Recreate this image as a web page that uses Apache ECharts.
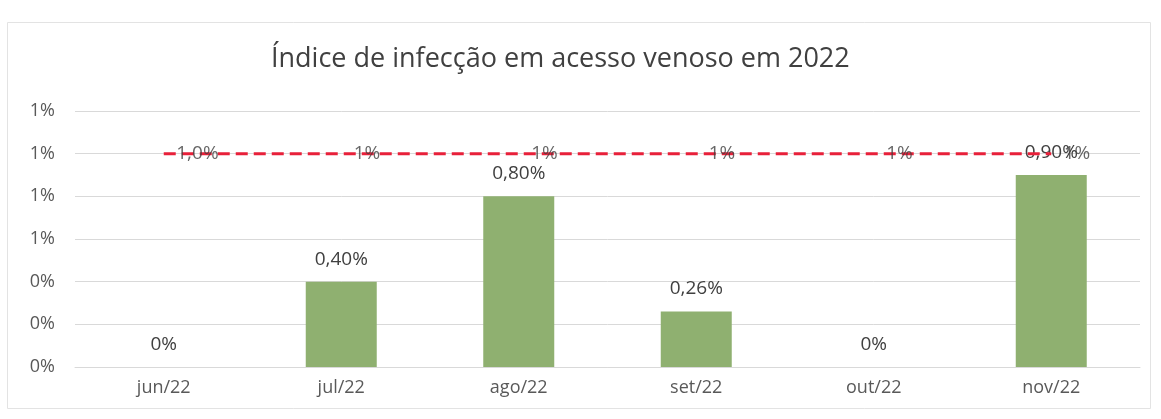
<!DOCTYPE html>
<html>
<head>
<meta charset="utf-8">
<script src="https://cdn.jsdelivr.net/npm/echarts@6/dist/echarts.min.js"></script>
<style>
  html, body { margin: 0; padding: 0; background: #ffffff; }
  #chart { width: 1161px; height: 419px; }
</style>
</head>
<body>
<div id="chart"></div>
<script>
// Monthly infection rate in venous access (percent)
const months = ['jun/22', 'jul/22', 'ago/22', 'set/22', 'out/22', 'nov/22'];
const infectionRate = [0, 0.40, 0.80, 0.26, 0, 0.90];
// Target rate line (percent) and its printed labels
const targetRate = [1.0, 1.0, 1.0, 1.0, 1.0, 1.0];
const targetLabels = ['1,0%', '1%', '1%', '1%', '1%', '1%'];

const chart = echarts.init(document.getElementById('chart'));

function barLabel(v) {
  return v === 0 ? '0%' : v.toFixed(2).replace('.', ',') + '%';
}

const textFont = 'Open Sans';

chart.setOption({
  backgroundColor: '#ffffff',
  animation: false,
  graphic: [{
    type: 'rect',
    shape: { x: 7.5, y: 22.5, width: 1143, height: 386 },
    style: { fill: 'none', stroke: '#e3e3e3', lineWidth: 1 },
    silent: true
  }],
  title: {
    text: 'Índice de infecção em acesso venoso em 2022',
    left: 266,
    top: 41,
    textStyle: {
      fontFamily: textFont,
      fontSize: 27,
      fontWeight: 'normal',
      color: '#404040'
    }
  },
  grid: { left: 75, right: 21, top: 111, bottom: 52 },
  xAxis: {
    type: 'category',
    data: months,
    axisLine: { show: true, lineStyle: { color: '#d9d9d9' } },
    axisTick: { show: false },
    axisLabel: {
      margin: 12,
      fontFamily: textFont,
      fontSize: 18,
      color: '#595959'
    }
  },
  yAxis: {
    type: 'value',
    min: 0,
    max: 1.2,
    interval: 0.2,
    axisLine: { show: false },
    axisTick: { show: false },
    splitLine: { lineStyle: { color: '#d9d9d9', width: 1 } },
    axisLabel: {
      margin: 20,
      fontFamily: textFont,
      fontSize: 18,
      color: '#595959',
      formatter: v => Math.round(v) + '%'
    }
  },
  series: [
    {
      type: 'bar',
      data: infectionRate,
      barWidth: '40%',
      itemStyle: { color: '#8fb070' },
      label: {
        show: true,
        position: 'top',
        distance: 13,
        fontFamily: textFont,
        fontSize: 19,
        color: '#404040',
        formatter: p => barLabel(p.value)
      },
      z: 2
    },
    {
      // dashed target line
      type: 'line',
      data: targetRate,
      symbol: 'none',
      lineStyle: { color: '#e8203a', width: 3, type: [12, 6] },
      z: 3
    },
    {
      // labels of the target line, drawn above the dashes
      type: 'scatter',
      data: targetRate,
      symbolSize: 1,
      itemStyle: { color: 'rgba(0,0,0,0)' },
      label: {
        show: true,
        position: 'right',
        distance: 12,
        fontFamily: textFont,
        fontSize: 19,
        color: '#404040',
        formatter: p => targetLabels[p.dataIndex]
      },
      labelLayout: { hideOverlap: false },
      z: 5
    }
  ]
});
</script>
</body>
</html>
